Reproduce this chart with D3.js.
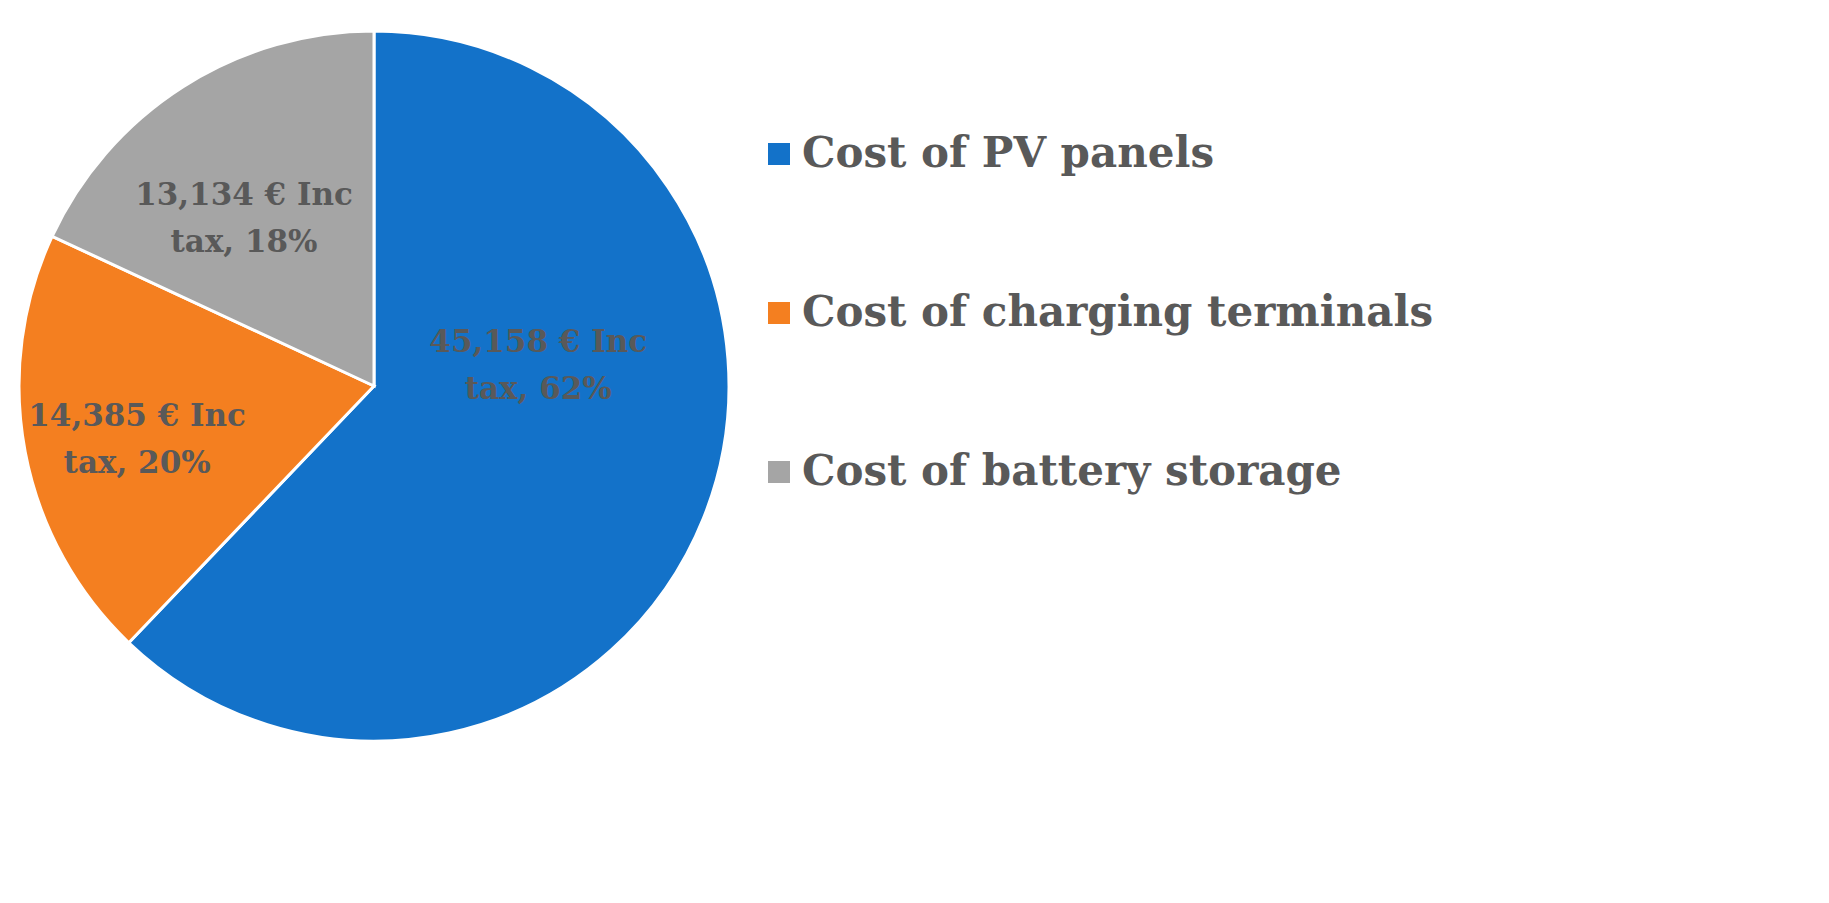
<!DOCTYPE html>
<html><head><meta charset="utf-8">
<script src="https://cdn.jsdelivr.net/npm/d3@7"></script>
<style>body{margin:0;background:#fff}</style></head>
<body><svg id="chart" width="1829" height="903"></svg>
<script>
const categories = ["Cost of PV panels", "Cost of charging terminals", "Cost of battery storage"];
const values = [45158, 14385, 13134];
const percents = ["62%", "20%", "18%"];
const colors = ["#1372C9", "#F47F20", "#A5A5A5"];

const cx = 374, cy = 386, r = 355;
const labelShift = [[-17, -100], [-45, 10], [-25, -10]];
const font = "'DejaVu Serif', 'Liberation Serif', serif";

const svg = d3.select("#chart");
const g = svg.append("g").attr("transform", `translate(${cx},${cy})`);
const pie = d3.pie().sort(null)(values);
const arc = d3.arc().innerRadius(0).outerRadius(r);
const labelArc = d3.arc().innerRadius(r * 0.55).outerRadius(r * 0.55);

g.selectAll("path").data(pie).enter().append("path")
  .attr("d", arc).attr("fill", (d, i) => colors[i])
  .attr("stroke", "#fff").attr("stroke-width", 3);

const fmt = d3.format(",");
g.selectAll("text.lbl").data(pie).enter().append("text")
  .attr("class", "lbl")
  .attr("transform", (d, i) => {
    const c = labelArc.centroid(d);
    return `translate(${c[0] + labelShift[i][0]},${c[1] + labelShift[i][1]})`;
  })
  .attr("text-anchor", "middle")
  .style("font-family", font).style("font-size", "31px").style("font-weight", "bold")
  .attr("fill", "#595959")
  .each(function (d, i) {
    const t = d3.select(this);
    t.append("tspan").attr("x", 0).attr("dy", "-0.2em").text(`${fmt(values[i])} € Inc`);
    t.append("tspan").attr("x", 0).attr("dy", "1.5em").text(`tax, ${percents[i]}`);
  });

const y = d3.scalePoint().domain(categories).range([157, 475]);
const leg = svg.append("g").selectAll("g").data(categories).enter().append("g")
  .attr("transform", d => `translate(768,${y(d)})`);
leg.append("rect").attr("x", 0).attr("y", -14).attr("width", 22).attr("height", 22)
  .attr("fill", (d, i) => colors[i]);
leg.append("text").attr("x", 34).attr("y", 10).text(d => d)
  .style("font-family", font).style("font-size", "42px").style("font-weight", "bold")
  .attr("fill", "#595959");
</script></body></html>
